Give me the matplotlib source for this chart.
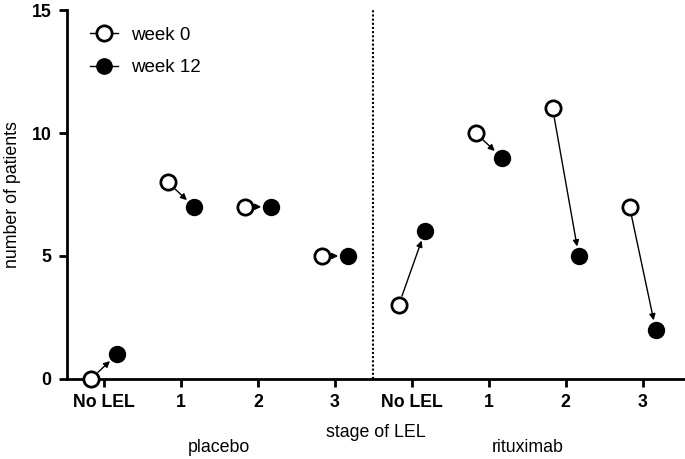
import matplotlib
matplotlib.use("Agg")
import matplotlib.pyplot as plt
from matplotlib.lines import Line2D

plt.rcParams['font.family'] = ['Liberation Sans', 'DejaVu Sans']

categories = ["No LEL", "1", "2", "3", "No LEL", "1", "2", "3"]
groups = ["placebo", "rituximab"]
week0 = [0, 8, 7, 5, 3, 10, 11, 7]
week12 = [1, 7, 7, 5, 6, 9, 5, 2]

FS = 12.8

fig = plt.figure(figsize=(6.85, 4.59), dpi=100)
ax = fig.add_axes([0.0978, 0.1743, 0.9022, 0.8039])

off = 0.17
xs = list(range(len(categories)))
for x, a, b in zip(xs, week0, week12):
    ax.annotate("", xy=(x + off, b), xytext=(x - off, a),
                arrowprops=dict(arrowstyle="-|>", color="black", lw=1.0,
                                mutation_scale=9, shrinkA=7, shrinkB=7),
                zorder=2)
ax.plot([x - off for x in xs], week0, linestyle="none", marker="o", ms=11,
        mfc="white", mec="black", mew=2, zorder=3, clip_on=False)
ax.plot([x + off for x in xs], week12, linestyle="none", marker="o", ms=11,
        mfc="black", mec="black", mew=1.5, zorder=3, clip_on=False)

ax.axvline(3.5, color="black", linestyle=(0, (1, 1)), lw=1.5)

ax.set_xlim(-0.48, 7.55)
ax.set_ylim(0, 15)
ax.set_yticks([0, 5, 10, 15])
ax.set_xticks(xs)
ax.set_xticklabels(categories, fontweight="bold", fontsize=FS)
for lab in ax.get_yticklabels():
    lab.set_fontweight("bold")
    lab.set_fontsize(FS)
ax.spines['top'].set_visible(False)
ax.spines['right'].set_visible(False)
ax.spines['left'].set_linewidth(2)
ax.spines['bottom'].set_linewidth(2)
ax.tick_params(axis='both', width=2, length=6, direction='out', pad=5)

ax.set_ylabel("number of patients", fontsize=FS, labelpad=8)
ax.text(0.5, -0.146, "stage of LEL", transform=ax.transAxes, ha="center",
        va="center", fontsize=FS)
ax.text(1.5, -0.187, groups[0], transform=ax.get_xaxis_transform(), ha="center",
        va="center", fontsize=FS)
ax.text(5.5, -0.187, groups[1], transform=ax.get_xaxis_transform(), ha="center",
        va="center", fontsize=FS)

handles = [
    Line2D([0], [0], color="black", lw=1, marker="o", ms=11, mfc="white", mec="black", mew=2),
    Line2D([0], [0], color="black", lw=1, marker="o", ms=11, mfc="black", mec="black"),
]
ax.legend(handles, ["week 0", "week 12"], loc="upper left", frameon=False,
          fontsize=13.5, bbox_to_anchor=(0.01, 1.0), handlelength=1.5,
          labelspacing=0.8, handletextpad=0.7)

fig.savefig("out.png", dpi=100)
